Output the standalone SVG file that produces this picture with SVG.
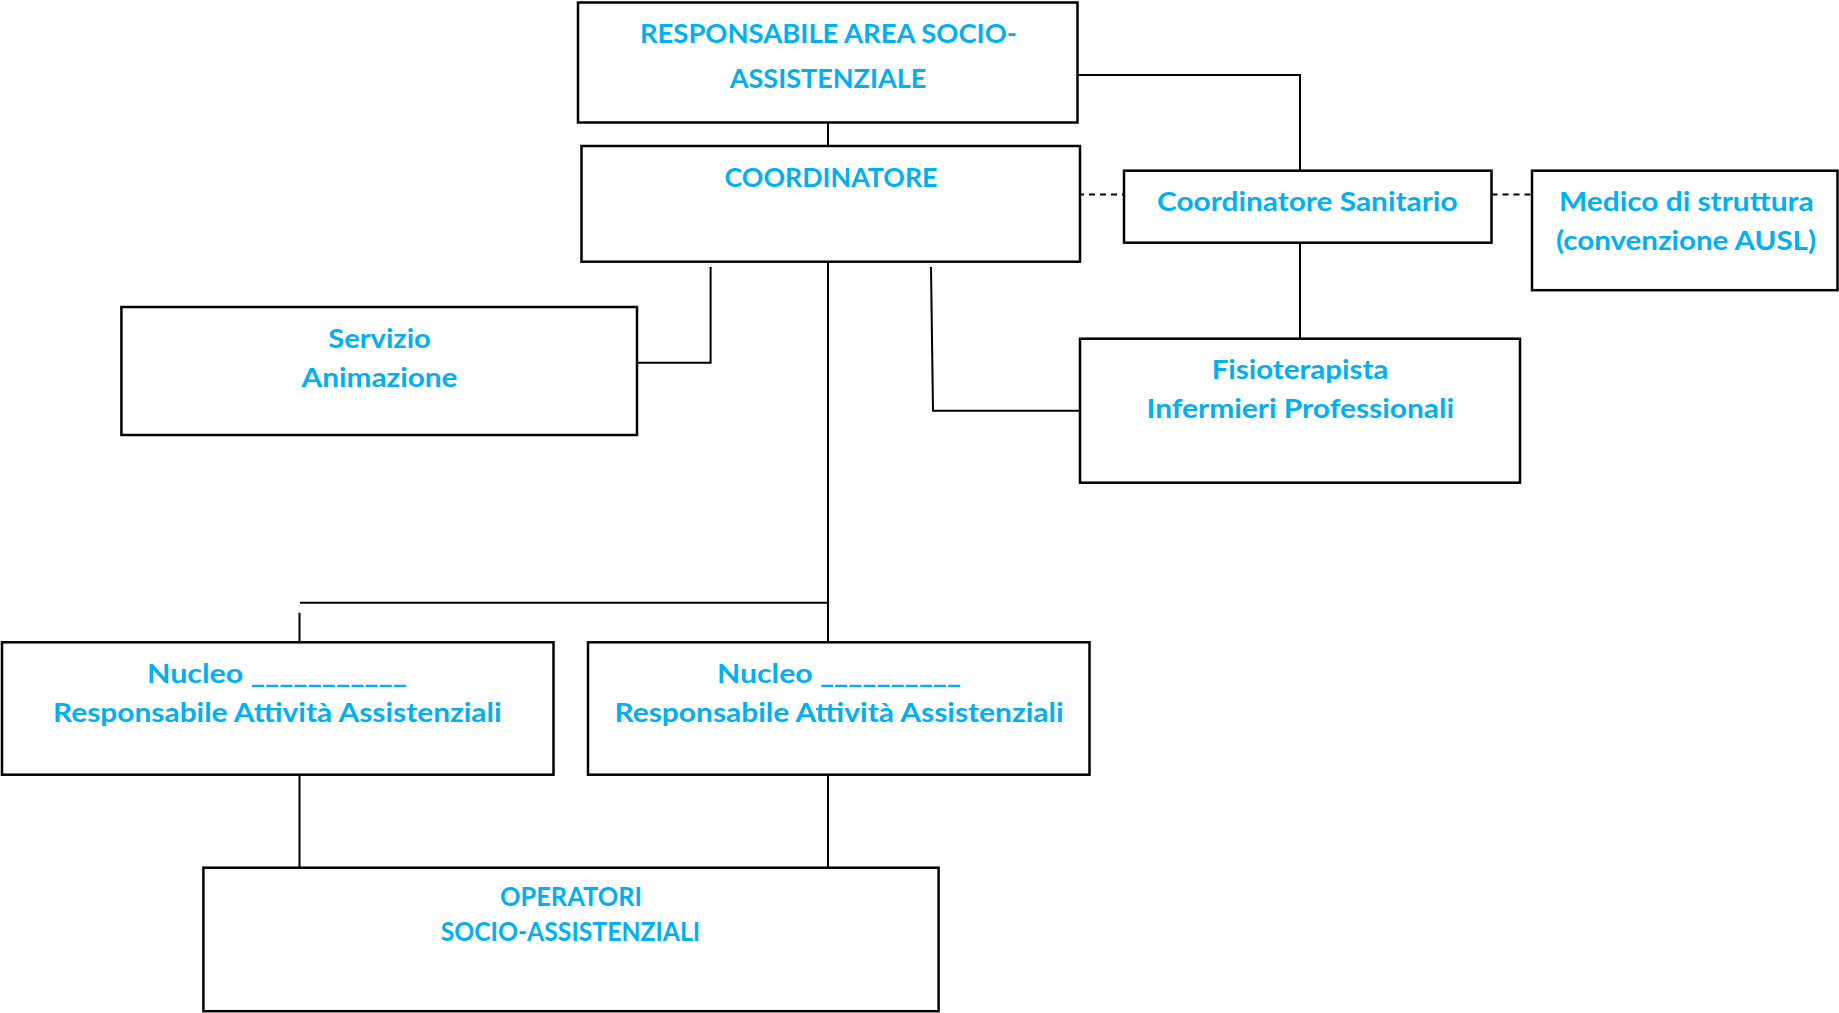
<svg xmlns="http://www.w3.org/2000/svg" width="1839" height="1013" viewBox="0 0 1839 1013">
<style>
.box{fill:#ffffff;stroke:#000000;stroke-width:2.5}
.t{font-family:Lato,"Liberation Sans",sans-serif;font-weight:bold;font-size:26px;fill:#00B0F0;text-anchor:middle}
.c{fill:none;stroke:#000000;stroke-width:2}
.d{fill:none;stroke:#000000;stroke-width:2;stroke-dasharray:6 5}
</style>
<rect width="1839" height="1013" fill="#ffffff"/>
<g id="connectors">
<path class="c" d="M828 122.5V146"/>
<path class="c" d="M1077.5 75H1300V170.7"/>
<path class="c" d="M1300 242.7V338.7"/>
<path class="c" d="M710.6 267V362.7H637"/>
<path class="c" d="M931 267L933 410.7H1079"/>
<path class="c" d="M828 262V642"/>
<path class="c" d="M300 602.7H828"/>
<path class="c" d="M299.5 612.7V642"/>
<path class="c" d="M299.5 774.7V867.7"/>
<path class="c" d="M828 774.7V867.7"/>
<path class="d" d="M1078 194.5H1124"/>
<path class="d" d="M1491.5 194.5H1532"/>
</g>
<g id="responsabile-area">
<rect class="box" x="578" y="2.5" width="499.5" height="120"/>
<text class="t" x="828.5" y="43.3" textLength="377" lengthAdjust="spacingAndGlyphs">RESPONSABILE AREA SOCIO-</text>
<text class="t" x="828" y="88.3" textLength="196.5" lengthAdjust="spacingAndGlyphs">ASSISTENZIALE</text>
</g>
<g id="coordinatore">
<rect class="box" x="581.5" y="146" width="498.5" height="115.7"/>
<text class="t" x="831" y="186.7" textLength="213" lengthAdjust="spacingAndGlyphs">COORDINATORE</text>
</g>
<g id="coordinatore-sanitario">
<rect class="box" x="1124" y="170.7" width="367.5" height="72"/>
<text class="t" x="1307.3" y="211" textLength="300.6" lengthAdjust="spacingAndGlyphs">Coordinatore Sanitario</text>
</g>
<g id="medico">
<rect class="box" x="1532" y="170.7" width="305.5" height="119.5"/>
<text class="t" x="1686.3" y="211" textLength="254.5" lengthAdjust="spacingAndGlyphs">Medico di struttura</text>
<text class="t" x="1686" y="250" textLength="260" lengthAdjust="spacingAndGlyphs">(convenzione AUSL)</text>
</g>
<g id="servizio-animazione">
<rect class="box" x="121.4" y="307" width="515.6" height="128"/>
<text class="t" x="379.5" y="348.3" textLength="102.5" lengthAdjust="spacingAndGlyphs">Servizio</text>
<text class="t" x="379.5" y="387.3" textLength="156" lengthAdjust="spacingAndGlyphs">Animazione</text>
</g>
<g id="fisioterapista">
<rect class="box" x="1080" y="338.7" width="440" height="144"/>
<text class="t" x="1300" y="379.3" textLength="176.7" lengthAdjust="spacingAndGlyphs">Fisioterapista</text>
<text class="t" x="1300.3" y="418.3" textLength="307.5" lengthAdjust="spacingAndGlyphs">Infermieri Professionali</text>
</g>
<g id="nucleo-1">
<rect class="box" x="2" y="642.3" width="551.5" height="132.4"/>
<text class="t" x="277" y="683.3" textLength="260" lengthAdjust="spacingAndGlyphs">Nucleo ___________</text>
<text class="t" x="277.3" y="721.5" textLength="448.6" lengthAdjust="spacingAndGlyphs">Responsabile Attività Assistenziali</text>
</g>
<g id="nucleo-2">
<rect class="box" x="588" y="642.3" width="501.5" height="132.4"/>
<text class="t" x="839" y="683.3" textLength="244" lengthAdjust="spacingAndGlyphs">Nucleo __________</text>
<text class="t" x="839" y="721.5" textLength="449" lengthAdjust="spacingAndGlyphs">Responsabile Attività Assistenziali</text>
</g>
<g id="operatori">
<rect class="box" x="203.4" y="867.7" width="735.2" height="143.5"/>
<text class="t" x="571" y="906" textLength="142" lengthAdjust="spacingAndGlyphs">OPERATORI</text>
<text class="t" x="570.4" y="940.7" textLength="259.5" lengthAdjust="spacingAndGlyphs">SOCIO-ASSISTENZIALI</text>
</g>
</svg>
